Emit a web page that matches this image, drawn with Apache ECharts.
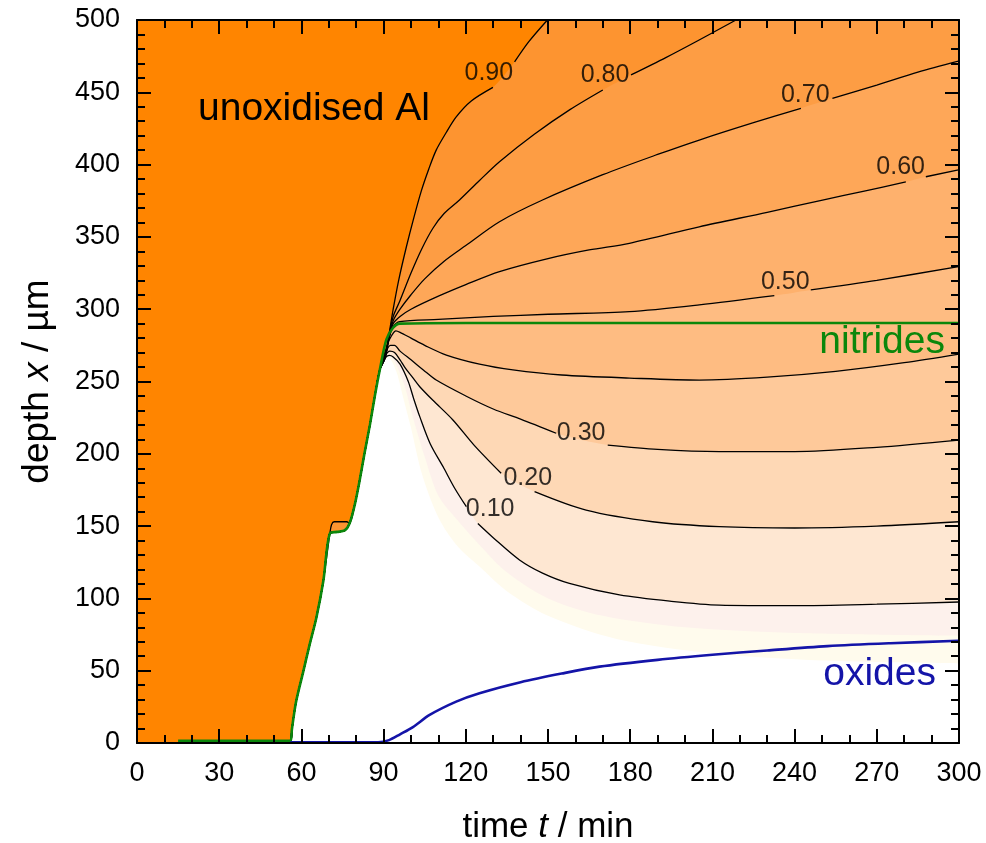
<!DOCTYPE html>
<html>
<head>
<meta charset="utf-8">
<script src="https://cdn.jsdelivr.net/npm/echarts@6/dist/echarts.min.js"></script>
<style>
html,body{margin:0;padding:0;background:#fff}
#chart{width:986px;height:843px}
</style>
</head>
<body>
<div id="chart"></div>
<script>
// Reaction front shared by every contour before they fan out (time / min, depth / µm)
const front = [[0,0],[56,0],[56.5,9],[58,28],[60.5,48],[63,68],[65.5,87],[68,112],[70.4,145],[73,146],[75.8,147],[77.6,152],[79.5,165],[81.3,182],[83,200],[85,220],[86.8,240],[88.6,258]];
// small step of the unconverted metal near t = 70-78 min
const frontStep = [[70.4,145],[71,151],[72,153],[76.5,153],[77.6,152]];

// outer limit of the converted zone and a faint intermediate shade
const edgeFaint = [[90.3,264],[91.8,266],[93.3,263],[95,255],[97,240],[100,218],[104,186],[110,156],[117,136],[125,122],[135,105],[150,88],[175,72],[210,62],[250,57],[300,55]];
const level005 = [[90.5,265],[92,267.5],[93.5,265.5],[95.5,258],[98,245],[100,230],[105,198],[110,171],[117,154],[125,137],[135,118],[150,100],[170,88],[200,80],[240,76],[300,74]];

// iso-lines of the remaining metal fraction; null marks where a label sits
const level010 = [[90.5,266],[92,268],[93.5,267],[96,262],[99,250],[101,238],[103.2,225.7],[107,207],[112,190],[116,176],[120.2,163.4],null,[124.4,151.8],[130,142],[139.6,126.6],[148,117.5],[157.8,110.4],[176.1,102.4],[195,98],[212.5,95.4],[240,95],[270,96],[300,97.5]];
const level020 = [[90.7,268],[92.3,271],[94,270],[96,265],[98,259],[100.5,253],[103.2,246.4],[108,237],[115.3,223.4],[123,206],[132.9,186.5],null,[145.1,173.8],[163.9,161],[188.2,153],[212.5,149.6],[240,148.7],[270,150],[300,153]];
const level030 = [[91,271],[92.5,275],[94,275],[96,271],[100,265],[104.5,258],[109.2,251],[120,240],[130,231],[140,224],[153,214.2],null,[171.8,206],[190,203],[212.5,201.5],[240,201.5],[270,204.5],[300,209.5]];
const level040 = [[91.5,276],[93,282],[94.5,285],[96,284],[100,280],[105,275],[112.9,268.3],[125,262],[137.2,258],[155,254.5],[179.7,252.4],[205.2,251],[230,253],[255,257],[280,263],[300,269]];
const level050 = [[90.5,266],[92,280],[93.5,288],[95.9,291.4],[110,293],[130,295],[150,296.5],[179.7,298.3],[205.2,303],[232.6,309.4],null,[245.9,313.3],[270,320],[299.8,329.4]];
const level060 = [[90.5,266],[92,280],[93.5,290],[96,295],[100,300],[110,309],[120,317],[132.3,326],[150,335],[165,341],[179.7,345.6],[205.2,357],[230,367],[250.2,375.5],[265,381.5],[280.6,388],null,[287.9,391.6],[299.8,396.3]];
const level070 = [[90.5,266],[92,281],[93.5,292],[96,300],[100,310],[105,321],[112,333],[120,344],[132.3,360.5],[148,375.5],[170,393],[190,407],[205.2,417],[225,429],[242.3,438.9],null,[253.8,445.8],[270,455],[285,464],[299.8,471.6]];
const level080 = [[90.5,267],[92,282],[93.5,295],[96,306],[100,325],[104,342],[108,356],[112,366],[117.7,375.5],[125,389],[132.3,402],[145,421],[158,438],[170,451.6],null,[180.3,462],[193,474],[205,486],[218.6,500]];
const level090 = [[90.5,267],[92,283],[93.5,300],[95.5,320],[98.3,343],[101,363],[103.8,382],[106.5,397],[109.2,410],[112.8,422],[116.5,433],[122,444],[129.9,453.4],null,[137.8,471],[143,485],[149.8,500]];

// phase boundaries
const nitrideTail = [[91,279],[93.4,287],[95.9,290],[120,290.5],[300,290.5]];
const nitrideStart = [[15,1.5],[56,1.5]];
const oxides = [[56,0.5],[88,0.5],[92,2],[96,6],[100.7,11],[106.8,19.4],[116.5,28.6],[125,34.4],[140,42],[155,48],[168.8,52.8],[190,57.5],[210,61],[230,64],[252,67],[275,69],[300,70.7]];

// contour labels: [time, depth, text]
const contourLabels = [[128.4,463,'0.90'],[170.8,462,'0.80'],[243.9,448,'0.70'],[278.7,398.5,'0.60'],[236.6,319,'0.50'],[162.1,214.2,'0.30'],[142.6,183,'0.20'],[128.9,161.6,'0.10']];

const FONT = 'Liberation Sans, Arial, sans-serif';
const GREEN = '#0B870B';
const BLUE = '#1414A8';
const SMOOTH = 0.3;

// front with the small step, used by the top contour
const frontWithStep = front.filter(p => p[0] < 70.4).concat(frontStep, front.filter(p => p[0] > 77.6));

// fill layers: each paints everything above its curve, lowest level first
const layers = [
  {path: front.concat(edgeFaint), color: '#FFFBED', stroke: false},
  {path: front.concat(level005), color: '#FDF1EC', stroke: false},
  {path: front.concat(level010), color: '#FEE7D2', stroke: true},
  {path: front.concat(level020), color: '#FED8B5', stroke: true},
  {path: front.concat(level030), color: '#FEC99A', stroke: true},
  {path: front.concat(level040), color: '#FEBC82', stroke: true},
  {path: front.concat(level050), color: '#FEB16D', stroke: true},
  {path: front.concat(level060), color: '#FEA758', stroke: true},
  {path: front.concat(level070), color: '#FD9D44', stroke: true},
  {path: front.concat(level080), color: '#FD9430', stroke: true},
  {path: frontWithStep.concat(level090), color: '#FF8500', stroke: true}
];

const series = [];
layers.forEach(layer => {
  series.push({
    type: 'line', silent: true, showSymbol: false, z: 1,
    smooth: SMOOTH,
    data: layer.path.filter(p => p !== null),
    lineStyle: {width: 0, opacity: 0},
    areaStyle: {color: layer.color, opacity: 1, origin: 'end'},
    animation: false
  });
});
layers.forEach(layer => {
  if (!layer.stroke) return;
  series.push({
    type: 'line', silent: true, showSymbol: false, z: 3,
    smooth: SMOOTH,
    data: layer.path.map(p => p === null ? ['-', '-'] : p),
    connectNulls: false,
    lineStyle: {color: '#000', width: 1.3},
    animation: false
  });
});
series.push({
  type: 'line', silent: true, showSymbol: false, z: 4,
  smooth: SMOOTH,
  data: nitrideStart.concat(front.filter(p => p[0] > 56), nitrideTail),
  lineStyle: {color: GREEN, width: 2.6},
  animation: false
});
series.push({
  type: 'line', silent: true, showSymbol: false, z: 4,
  smooth: SMOOTH,
  data: oxides,
  lineStyle: {color: BLUE, width: 2.6},
  animation: false
});
series.push({
  type: 'scatter', silent: true, z: 5, symbolSize: 1,
  itemStyle: {color: 'rgba(0,0,0,0)'},
  data: contourLabels,
  label: {
    show: true, position: 'inside', formatter: p => p.data[2],
    fontSize: 25, fontFamily: FONT, color: '#000'
  },
  animation: false
});

function xAxisDef(pos, labels) {
  return {
    type: 'value', min: 0, max: 300, interval: 30, position: pos,
    zlevel: 1, z: 10,
    axisLine: {show: true, onZero: false, lineStyle: {color: '#000', width: 2}},
    axisTick: {show: true, inside: true, length: 14, lineStyle: {color: '#000', width: 2}},
    minorTick: {show: true, splitNumber: 3, length: 8, lineStyle: {color: '#000', width: 2}},
    splitLine: {show: false},
    axisLabel: {show: labels, fontSize: 27, fontFamily: FONT, color: '#000', margin: 17},
    name: labels ? 'time {i|t} / min' : '',
    nameLocation: 'middle', nameGap: 67,
    nameTextStyle: {fontSize: 35, fontFamily: FONT, color: '#000',
      rich: {i: {fontSize: 35, fontFamily: FONT, fontStyle: 'italic', color: '#000'}}}
  };
}
function yAxisDef(pos, labels) {
  return {
    type: 'value', min: 0, max: 500, interval: 50, position: pos,
    zlevel: 1, z: 10,
    axisLine: {show: true, onZero: false, lineStyle: {color: '#000', width: 2}},
    axisTick: {show: true, inside: true, length: 14, lineStyle: {color: '#000', width: 2}},
    minorTick: {show: true, splitNumber: 5, length: 8, lineStyle: {color: '#000', width: 2}},
    splitLine: {show: false},
    axisLabel: {show: labels, fontSize: 27, fontFamily: FONT, color: '#000', margin: 17},
    name: labels ? 'depth {i|x} / µm' : '',
    nameLocation: 'middle', nameGap: 81,
    nameTextStyle: {fontSize: 37, fontFamily: FONT, color: '#000',
      rich: {i: {fontSize: 37, fontFamily: FONT, fontStyle: 'italic', color: '#000'}}}
  };
}

const chart = echarts.init(document.getElementById('chart'), null, {renderer: 'canvas'});
chart.setOption({
  animation: false,
  backgroundColor: '#fff',
  grid: {left: 137, top: 20, right: 27, bottom: 100, containLabel: false, outerBoundsMode: 'none'},
  xAxis: [xAxisDef('bottom', true), xAxisDef('top', false)],
  yAxis: [yAxisDef('left', true), yAxisDef('right', false)],
  series: series,
  graphic: [
    {type: 'text', left: 198, top: 90, z: 20,
      style: {text: 'unoxidised Al', fontSize: 39, fontFamily: FONT, fill: '#000'}},
    {type: 'text', right: 41, top: 323, z: 20,
      style: {text: 'nitrides', fontSize: 39, fontFamily: FONT, fill: GREEN}},
    {type: 'text', right: 50, top: 655, z: 20,
      style: {text: 'oxides', fontSize: 39, fontFamily: FONT, fill: BLUE}}
  ]
});
</script>
</body>
</html>
